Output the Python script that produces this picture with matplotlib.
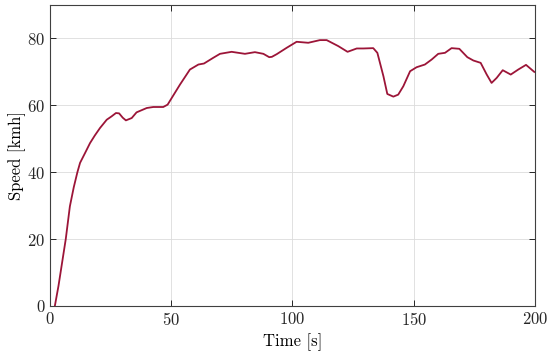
import matplotlib
matplotlib.use('Agg')
from matplotlib import pyplot as plt

# Speed profile
time_s = [2.0, 3.5, 5.0, 6.5, 8.2, 9.8, 11.3, 12.4, 14.5, 16.5, 18.5, 20.6, 23.4, 25.4,
          27.2, 28.5, 30.0, 31.3, 33.7, 35.7, 39.9, 42.6, 46.7, 48.5, 50.2, 53.6,
          57.7, 61.2, 63.5, 67.3, 70.1, 74.9, 80.4, 84.5, 88.0, 90.4, 91.5, 93.5,
          97.6, 101.7, 106.5, 111.3, 114.1, 118.9, 122.7, 126.5, 129.2, 133.3,
          135.0, 137.5, 139.1, 141.6, 143.6, 145.7, 148.5, 151.2, 154.6, 157.4,
          160.1, 162.9, 165.6, 168.8, 172.1, 174.6, 177.6, 180.1, 182.1, 184.2,
          186.7, 190.0, 193.1, 196.3, 199.7]
speed_kmh = [0.0, 6.0, 13.0, 20.0, 29.8, 35.5, 40.0, 42.8, 45.8, 48.7, 51.0, 53.2, 55.7,
             56.7, 57.7, 57.6, 56.3, 55.5, 56.2, 57.9, 59.2, 59.5, 59.5, 60.2, 62.2,
             66.2, 70.7, 72.2, 72.5, 74.2, 75.4, 76.0, 75.4, 75.9, 75.4, 74.4, 74.5,
             75.3, 77.2, 79.0, 78.7, 79.5, 79.5, 77.7, 76.0, 77.0, 77.0, 77.1, 75.7,
             68.7, 63.4, 62.6, 63.2, 65.7, 70.2, 71.4, 72.2, 73.7, 75.4, 75.7, 77.1,
             76.9, 74.4, 73.4, 72.7, 69.2, 66.7, 68.2, 70.5, 69.2, 70.7, 72.1, 70.0]

x_ticks = [0, 50, 100, 150, 200]
y_ticks = [0, 20, 40, 60, 80]

plt.rcParams['font.family'] = 'serif'
plt.rcParams['font.serif'] = ['cmr10']
plt.rcParams['mathtext.fontset'] = 'cm'
plt.rcParams['axes.formatter.use_mathtext'] = True

fig = plt.figure(figsize=(5.5, 3.57), dpi=100)
ax = fig.add_axes([0.0909, 0.1429, 0.8818, 0.8431])

ax.plot(time_s, speed_kmh, color='#9C1538', linewidth=1.3)

ax.set_xlim(0, 200)
ax.set_ylim(0, 90)
ax.set_xticks(x_ticks)
ax.set_yticks(y_ticks)
ax.set_xlabel('Time [s]', fontsize=12, labelpad=4)
ax.set_ylabel('Speed [kmh]', fontsize=12, labelpad=1)

# MATLAB-like box and grid
ax.grid(True, color='#dcdcdc', linewidth=0.6)
ax.set_axisbelow(True)
ax.tick_params(direction='in', top=True, right=True, labelsize=12,
               length=4, width=0.7, color='#262626', labelcolor='#262626')
for side in ax.spines.values():
    side.set_color('#404040')
    side.set_linewidth(0.8)

fig.savefig('out.png', dpi=100)
